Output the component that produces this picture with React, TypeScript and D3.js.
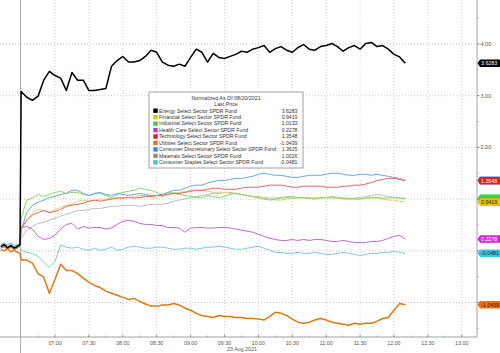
import React from "react";
import * as d3 from "d3";

// ---- data ----
const seriesNames = [
  "Energy Select Sector SPDR Fund",
  "Financial Select Sector SPDR Fund",
  "Industrial Select Sector SPDR Fund",
  "Health Care Select Sector SPDR Fund",
  "Technology Select Sector SPDR Fund",
  "Utilities Select Sector SPDR Fund",
  "Consumer Discretionary Select Sector SPDR Fund",
  "Materials Select Sector SPDR Fund",
  "Consumer Staples Select Sector SPDR Fund",
];
const lastPrices = [3.6283, 0.9419, 1.0133, 0.2278, 1.3548, -1.0439, 1.3625, 1.0026, -0.0481];
const lastLabels = ["3.6283", "0.9419", "1.0133", "0.2278", "1.3548", "-1.0439", "1.3625", "1.0026", "-0.0481"];

// minutes since midnight: previous-session tail, then 5-minute samples 06:30 .. 12:10
const preTimes = [372, 375, 378, 381, 384, 387, 389];
const times = preTimes.concat(d3.range(390, 731, 5));

const energy = [0.08, 0.12, 0.06, 0.10, 0.05, 0.09, 0.12,
  3.08, 2.97, 2.91, 2.99, 3.30, 3.47, 3.39, 3.34, 3.10, 3.45,
  3.30, 3.30, 3.10, 3.10, 3.12, 3.14, 3.57, 3.68, 3.76, 3.65,
  3.65, 3.68, 3.76, 3.88, 3.84, 3.65, 3.59, 3.57, 3.61, 3.57,
  3.74, 3.90, 3.84, 3.65, 3.82, 3.74, 3.72, 3.76, 3.80, 3.86,
  3.84, 3.90, 3.93, 3.97, 3.84, 3.91, 3.95, 3.88, 3.84, 3.93,
  3.99, 3.90, 3.88, 3.95, 3.97, 4.01, 3.95, 3.86, 3.93, 3.97,
  3.90, 4.01, 4.03, 3.95, 3.97, 3.90, 3.80, 3.75, 3.6283];
const financial = [0.04, 0.07, 0.02, 0.06, 0.03, 0.05, 0.08,
  0.40, 0.59, 0.73, 0.80, 0.78, 0.74, 0.80, 0.84, 0.88, 0.90,
  0.96, 0.98, 0.96, 0.98, 1.00, 1.00, 1.02, 1.02, 1.03, 1.03,
  1.05, 1.07, 1.07, 1.05, 1.03, 1.05, 1.09, 1.13, 1.13, 1.15,
  1.17, 1.17, 1.17, 1.15, 1.13, 1.13, 1.13, 1.11, 1.11, 1.09,
  1.07, 1.05, 1.03, 1.02, 1.00, 0.98, 0.98, 1.00, 1.02, 1.02,
  1.02, 1.02, 1.03, 1.03, 1.03, 1.03, 1.03, 1.02, 1.00, 1.00,
  1.00, 1.02, 1.02, 1.02, 1.00, 0.98, 0.98, 0.96, 0.9419];
const industrial = [0.09, 0.13, 0.07, 0.11, 0.06, 0.10, 0.13,
  0.63, 0.98, 1.02, 1.09, 1.05, 1.09, 1.13, 1.15, 1.11, 1.13,
  1.13, 1.09, 1.07, 1.11, 1.11, 1.07, 1.03, 1.09, 1.13, 1.15,
  1.17, 1.21, 1.19, 1.17, 1.13, 1.07, 1.13, 1.11, 1.09, 1.07,
  1.05, 1.03, 1.03, 1.07, 1.05, 1.03, 1.05, 1.09, 1.11, 1.09,
  1.07, 1.05, 1.02, 1.00, 0.98, 1.00, 1.02, 1.03, 1.02, 1.03,
  1.03, 1.02, 1.00, 1.02, 1.03, 1.05, 1.03, 1.02, 1.02, 1.00,
  1.00, 1.02, 1.03, 1.03, 1.02, 1.02, 1.03, 1.02, 1.0133];
const healthCare = [0.06, 0.08, 0.04, 0.09, 0.05, 0.07, 0.10,
  0.45, 0.47, 0.42, 0.28, 0.22, 0.24, 0.30, 0.42, 0.51, 0.53,
  0.42, 0.47, 0.44, 0.45, 0.45, 0.42, 0.44, 0.51, 0.57, 0.59,
  0.57, 0.53, 0.51, 0.51, 0.49, 0.49, 0.45, 0.45, 0.44, 0.36,
  0.44, 0.45, 0.45, 0.44, 0.44, 0.45, 0.45, 0.44, 0.42, 0.40,
  0.38, 0.36, 0.32, 0.28, 0.24, 0.22, 0.20, 0.20, 0.22, 0.20,
  0.22, 0.20, 0.22, 0.22, 0.20, 0.18, 0.18, 0.20, 0.18, 0.16,
  0.16, 0.16, 0.18, 0.18, 0.20, 0.24, 0.28, 0.30, 0.2278];
const technology = [0.05, 0.08, 0.03, 0.07, 0.02, 0.06, 0.09,
  0.44, 0.59, 0.69, 0.74, 0.78, 0.74, 0.76, 0.80, 0.86, 0.88,
  0.90, 0.92, 0.96, 0.98, 0.96, 0.98, 1.00, 1.02, 1.02, 1.03,
  1.02, 1.03, 1.05, 1.05, 1.07, 1.07, 1.09, 1.11, 1.11, 1.13,
  1.15, 1.17, 1.17, 1.19, 1.21, 1.21, 1.19, 1.19, 1.19, 1.21,
  1.23, 1.23, 1.23, 1.25, 1.27, 1.27, 1.27, 1.25, 1.23, 1.23,
  1.25, 1.25, 1.25, 1.25, 1.23, 1.23, 1.23, 1.25, 1.25, 1.27,
  1.27, 1.29, 1.32, 1.36, 1.38, 1.40, 1.40, 1.38, 1.3548];
const utilities = [0.02, 0.00, 0.04, -0.02, 0.01, -0.03, -0.05,
  -0.18, -0.18, -0.24, -0.44, -0.51, -0.82, -0.55, -0.26, -0.38, -0.38,
  -0.44, -0.53, -0.61, -0.67, -0.71, -0.78, -0.82, -0.86, -0.90, -0.94,
  -0.92, -0.98, -1.03, -1.07, -1.07, -1.05, -1.05, -1.02, -1.05, -1.11,
  -1.15, -1.21, -1.25, -1.27, -1.29, -1.25, -1.27, -1.27, -1.29, -1.29,
  -1.31, -1.31, -1.32, -1.34, -1.27, -1.19, -1.21, -1.25, -1.32, -1.38,
  -1.40, -1.38, -1.34, -1.31, -1.34, -1.38, -1.40, -1.42, -1.44, -1.40,
  -1.42, -1.40, -1.40, -1.36, -1.31, -1.29, -1.15, -1.02, -1.0439];
const consDiscretionary = [0.12, 0.15, 0.10, 0.14, 0.08, 0.12, 0.15,
  0.40, 0.74, 0.88, 0.94, 0.98, 1.03, 1.05, 1.09, 1.11, 1.17,
  1.17, 1.11, 1.07, 1.11, 1.13, 1.09, 1.07, 1.11, 1.09, 1.07,
  1.09, 1.11, 1.09, 1.07, 1.07, 1.09, 1.13, 1.17, 1.17, 1.21,
  1.25, 1.27, 1.27, 1.31, 1.34, 1.36, 1.36, 1.38, 1.40, 1.40,
  1.42, 1.44, 1.48, 1.50, 1.48, 1.46, 1.46, 1.44, 1.42, 1.42,
  1.44, 1.46, 1.46, 1.46, 1.48, 1.50, 1.50, 1.48, 1.46, 1.46,
  1.48, 1.48, 1.46, 1.48, 1.46, 1.44, 1.42, 1.40, 1.3625];
const materials = [0.07, 0.10, 0.05, 0.09, 0.04, 0.08, 0.11,
  0.24, 0.40, 0.47, 0.53, 0.55, 0.59, 0.63, 0.67, 0.71, 0.74,
  0.78, 0.78, 0.80, 0.82, 0.82, 0.84, 0.86, 0.86, 0.88, 0.88,
  0.88, 0.86, 0.88, 0.90, 0.90, 0.90, 0.92, 0.96, 0.98, 1.00,
  1.03, 1.05, 1.07, 1.09, 1.11, 1.11, 1.13, 1.13, 1.11, 1.09,
  1.07, 1.05, 1.05, 1.03, 1.02, 1.02, 1.03, 1.05, 1.05, 1.03,
  1.03, 1.02, 1.02, 1.03, 1.03, 1.02, 1.02, 1.00, 1.00, 1.02,
  1.03, 1.05, 1.07, 1.09, 1.07, 1.05, 1.03, 1.02, 1.0026];
const consStaples = [0.10, 0.14, 0.12, 0.16, 0.10, 0.13, 0.08,
  0.01, -0.03, -0.05, -0.11, -0.22, -0.32, -0.20, 0.11, 0.07, 0.05,
  0.07, 0.03, 0.01, 0.05, 0.01, 0.03, 0.07, 0.01, 0.03, 0.07,
  0.09, 0.07, 0.05, 0.05, 0.07, 0.07, 0.05, 0.03, 0.03, 0.05,
  0.05, 0.03, 0.05, 0.07, 0.07, 0.09, 0.07, 0.05, 0.03, 0.03,
  0.05, 0.07, 0.09, 0.05, 0.01, -0.03, -0.03, -0.05, -0.05, -0.03,
  -0.05, -0.05, -0.03, -0.05, -0.07, -0.07, -0.05, -0.03, -0.05, -0.07,
  -0.09, -0.07, -0.05, -0.05, -0.03, -0.03, -0.01, -0.03, -0.0481];

const seriesValues = [energy, financial, industrial, healthCare, technology, utilities, consDiscretionary, materials, consStaples];
const legendColors = ["#000000", "#e8c000", "#3ccf3c", "#d42ad4", "#e01f1f", "#ec6e14", "#2a86e0", "#8c8c8c", "#3cc4e4"];
const lineColors = ["#000000", "#e6d36a", "#86d86a", "#c46ad0", "#e06666", "#e0780f", "#6aa8dc", "#bdbdbd", "#7cccda"];
const tagText = ["#ffffff", "#222222", "#222222", "#ffffff", "#ffffff", "#222222", "#ffffff", "#ffffff", "#222222"];
const drawOrder = [7, 1, 2, 3, 8, 6, 4, 5, 0];
// tags drawn bottom-to-top; the ones hidden underneath others carry no visible text
const tagOrder = [6, 7, 2, 1, 4, 3, 8, 5, 0];
const tagHidden = [6, 7, 2];
const yTicks = [-1, 0, 1, 2, 3, 4];
const yMinor = [-1.5, -0.5, 0.5, 1.5, 2.5, 3.5, 4.5];
const xTicks = d3.range(420, 781, 30);
const xMinor = d3.range(405, 794, 30);
const sessionBreak = 389.5;
const dateLabel = "23 Aug 2021";
const legendTitle = "Normalized As Of 08/20/2021";
const legendSub = "Last Price";

const FONT = "'Liberation Sans', Arial, sans-serif";

export default function App() {
  const W = 500, H = 353;
  const plotL = 0, plotR = 477, plotT = 0, plotB = 337;
  const x = d3.scaleLinear().domain([371.3, 793.5]).range([plotL, plotR]);
  const y = d3.scaleLinear().domain([-1, 4]).range([302.5, 44]);
  const line = d3.line<number>().x((_, i) => x(times[i])).y((v) => y(v));
  const fmt = (m: number) => d3.format("02d")(Math.floor(m / 60)) + ":" + d3.format("02d")(m % 60);
  const tagYs = lastPrices.map((p) => y(p));
  const coveredByTag = (yy: number) => tagYs.some((ty) => Math.abs(ty - yy) < 6);

  const legX = 149, legY = 92, legW = 154, legH = 76;
  return (
    <svg width={W} height={H} style={{ position: "absolute", left: 0, top: 0, background: "#fff" }} fontFamily={FONT}>
      <defs>
        <clipPath id="clip"><rect x={plotL} y={plotT} width={plotR - plotL} height={plotB - plotT} /></clipPath>
      </defs>
      <rect x={0} y={0} width={W} height={H} fill="#ffffff" />
      {/* grid */}
      {yTicks.map((t) => (
        <line key={"gy" + t} x1={plotL} x2={plotR} y1={y(t)} y2={y(t)} stroke="#b8b8b8" strokeWidth={0.8} strokeDasharray="1,2" />
      ))}
      {xTicks.map((t) => (
        <line key={"gx" + t} x1={x(t)} x2={x(t)} y1={plotT} y2={plotB} stroke="#c4c4c4" strokeWidth={0.8} strokeDasharray="1,2" />
      ))}
      {/* session break */}
      <line x1={x(sessionBreak)} x2={x(sessionBreak)} y1={0} y2={H} stroke="#9a9a9a" strokeWidth={0.8} />
      {/* lines */}
      <g clipPath="url(#clip)">
        {drawOrder.map((si) => (
          <path key={"s" + si} d={line(seriesValues[si]) || ""} fill="none" stroke={lineColors[si]}
            strokeWidth={si === 0 || si === 5 ? 1.5 : 1} strokeLinejoin="round" />
        ))}
      </g>
      {/* axes */}
      <line x1={plotR} x2={plotR} y1={0} y2={plotB} stroke="#8a8a8a" strokeWidth={0.8} />
      <line x1={0} x2={plotR} y1={plotB} y2={plotB} stroke="#8a8a8a" strokeWidth={0.8} />
      {yTicks.map((t) => (
        <g key={"yt" + t}>
          <line x1={plotR} x2={plotR + 2.5} y1={y(t)} y2={y(t)} stroke="#666" strokeWidth={0.8} />
          {!coveredByTag(y(t)) && (
            <text x={plotR + 3.5} y={y(t)} dy="0.35em" fontSize={5.5} fill="#555">{d3.format(".2f")(t)}</text>
          )}
        </g>
      ))}
      {yMinor.map((t) => (
        <line key={"ym" + t} x1={plotR} x2={plotR + 1.5} y1={y(t)} y2={y(t)} stroke="#777" strokeWidth={0.6} />
      ))}
      {xTicks.map((t) => (
        <g key={"xt" + t}>
          <line x1={x(t)} x2={x(t)} y1={plotB} y2={plotB - 2.5} stroke="#777" strokeWidth={0.7} />
          <text x={x(t)} y={343.5} textAnchor="middle" dy="0.35em" fontSize={5.3} fill="#555">{fmt(t)}</text>
        </g>
      ))}
      {xMinor.map((t) => (
        <line key={"xm" + t} x1={x(t)} x2={x(t)} y1={plotB} y2={plotB - 1.5} stroke="#888" strokeWidth={0.6} />
      ))}
      <text x={242} y={349.3} textAnchor="middle" dy="0.35em" fontSize={5.3} fill="#555">{dateLabel}</text>
      {/* last-price tags */}
      {tagOrder.map((si) => {
        const ty = tagYs[si];
        return (
          <g key={"tag" + si}>
            <path d={`M${plotR + 0.5},${ty} L${plotR + 3},${ty - 3.8} L${W},${ty - 3.8} L${W},${ty + 3.8} L${plotR + 3},${ty + 3.8} Z`}
              fill={legendColors[si]} />
            {!tagHidden.includes(si) && (
              <text x={plotR + 4} y={ty} dy="0.35em" fontSize={5.3} fill={tagText[si]}>{lastLabels[si]}</text>
            )}
          </g>
        );
      })}
      {/* legend */}
      <rect x={legX} y={legY} width={legW} height={legH} fill="#ffffff" stroke="#8a8a8a" strokeWidth={0.8} />
      <text x={legX + legW / 2} y={97.8} dy="0.35em" textAnchor="middle" fontSize={5.3} fill="#333">{legendTitle}</text>
      <text x={legX + legW / 2} y={104.3} dy="0.35em" textAnchor="middle" fontSize={5.3} fill="#333">{legendSub}</text>
      {seriesNames.map((n, i) => {
        const ry = 110.7 + i * 6.45;
        return (
          <g key={"lg" + i}>
            <rect x={153.3} y={ry - 2.2} width={4.4} height={4.4} fill={legendColors[i]} />
            <text x={159} y={ry} dy="0.35em" fontSize={5.2} fill="#333">{n}</text>
            <text x={297.5} y={ry} dy="0.35em" textAnchor="end" fontSize={5.2} fill="#333">{lastLabels[i]}</text>
          </g>
        );
      })}
    </svg>
  );
}
